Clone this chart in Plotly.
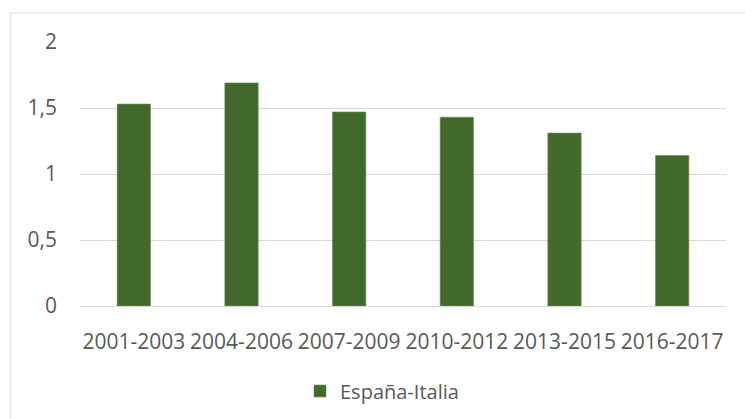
import plotly.graph_objects as go

categories = ["2001-2003", "2004-2006", "2007-2009", "2010-2012", "2013-2015", "2016-2017"]
values = [1.53, 1.69, 1.47, 1.43, 1.31, 1.14]
series_name = "España-Italia"
y_ticks = [0, 0.5, 1, 1.5, 2]
y_tick_labels = ["0", "0,5", "1", "1,5", "2"]

W, H = 745, 419
L, R, T, B = 80, 19, 42, 113
pw, ph = W - L - R, H - T - B

def px_x(x):
    return (x - L) / pw

def px_y(y):
    return (H - B - y) / ph

fig = go.Figure()
fig.add_trace(go.Bar(
    x=categories, y=values, name=series_name,
    marker=dict(color="#43682b", line=dict(color="#6f8d5a", width=0.6)),
    width=0.31,
))

font = dict(family="Open Sans, sans-serif", size=21, color="#595959")
fig.update_layout(
    width=W, height=H,
    margin=dict(l=L, r=R, t=T, b=B, autoexpand=False),
    paper_bgcolor="white", plot_bgcolor="white",
    font=font,
    showlegend=True,
    legend=dict(orientation="h", x=px_x(300), xanchor="left", y=px_y(391), yanchor="middle",
                font=dict(family="Open Sans, sans-serif", size=20, color="#595959")),
    xaxis=dict(showgrid=False, showline=True, linecolor="#d9d9d9", linewidth=1.3,
               ticks="", ticklabelstandoff=17, tickfont=font, automargin=False),
    yaxis=dict(range=[0, 2], tickvals=y_ticks, ticktext=y_tick_labels,
               showgrid=True, gridcolor="#d9d9d9", gridwidth=1.3, zeroline=False,
               showline=False, ticks="", ticklabelstandoff=22, tickfont=font, automargin=False),
    shapes=[dict(type="rect", xref="paper", yref="paper",
                 x0=px_x(10), x1=px_x(760), y0=px_y(430), y1=px_y(13),
                 line=dict(color="#d9d9d9", width=1), layer="below")],
)

fig.write_html("out.html", config={"displayModeBar": False},
               post_script="document.body.style.margin='0';document.body.style.overflow='hidden';")
